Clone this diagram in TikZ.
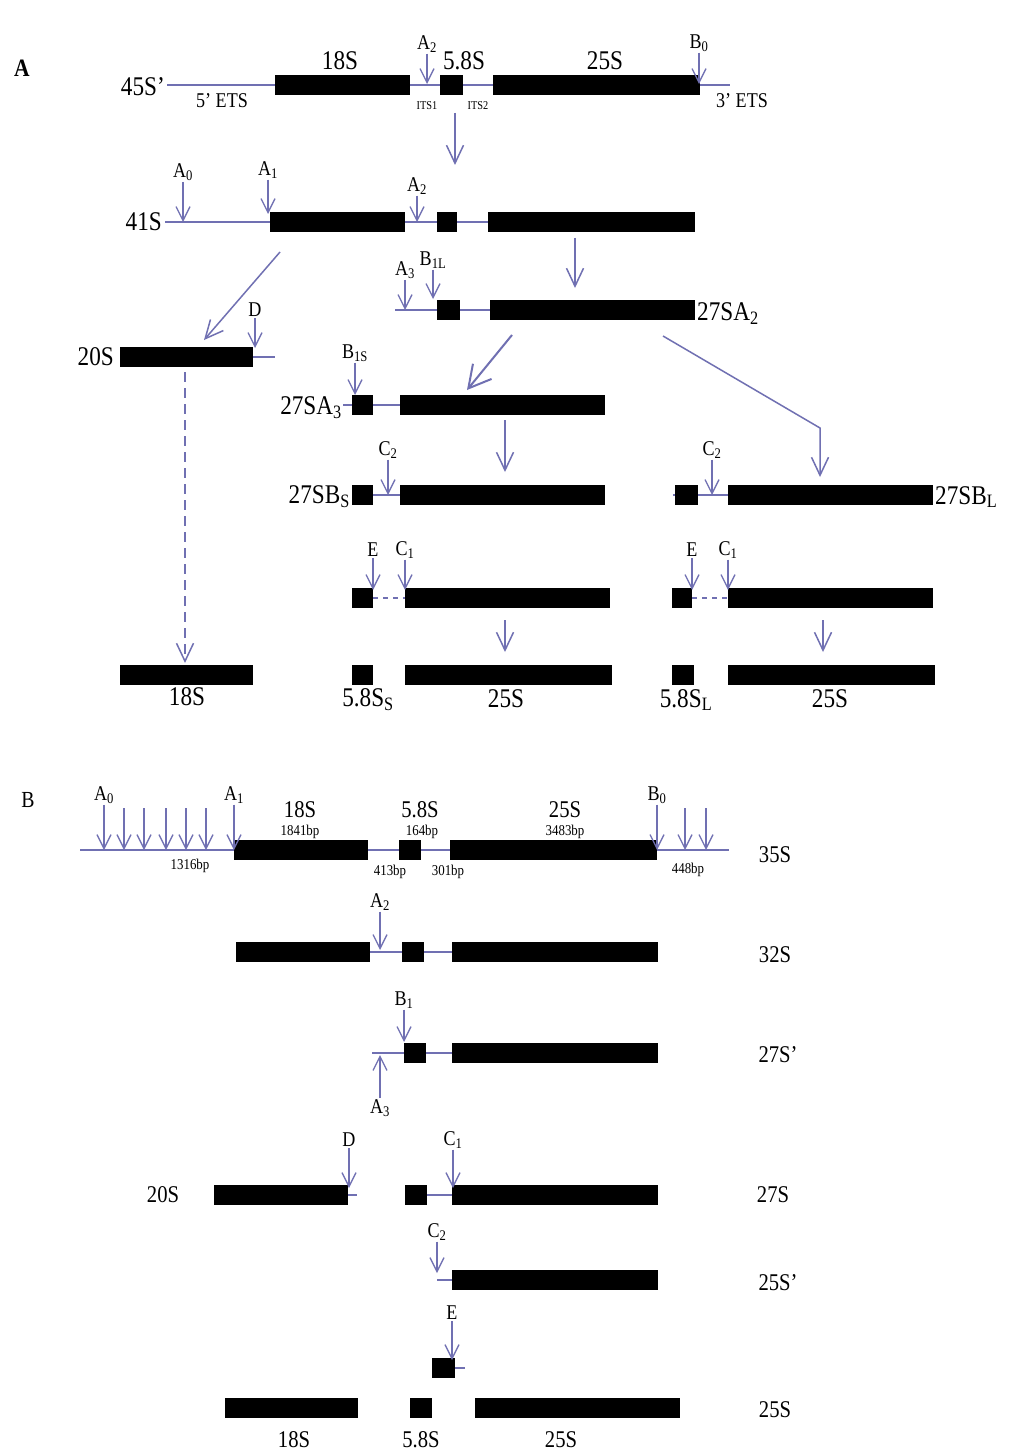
\documentclass[tikz,border=0pt]{standalone}
\usepackage{fontspec}
\setmainfont{Liberation Serif}[FakeStretch=0.86]
\usetikzlibrary{arrows.meta}
\definecolor{ln}{RGB}{112,112,178}
\tikzset{
 x=1pt,y=-1pt,
 rna/.style={draw=ln, line width=1.6pt},
 rnadash/.style={draw=ln, line width=1.6pt, dash pattern=on 5pt off 5pt},
 blk/.style={fill=black, draw=none, minimum height=20pt, inner sep=0pt, outer sep=0pt},
 cut/.style={draw=ln, line width=1.3pt, -{Straight Barb[length=14pt,width=14pt,line width=1.3pt]}},
 cutup/.style={draw=ln, line width=1.3pt, {Straight Barb[length=14pt,width=14pt,line width=1.3pt]}-},
 proc/.style={draw=ln, line width=1.5pt, -{Straight Barb[length=18pt,width=17pt,line width=1.5pt]}},
 procbig/.style={draw=ln, line width=2pt, -{Straight Barb[length=22pt,width=24pt,line width=2pt]}},
 procdash/.style={draw=ln, line width=1.5pt, dash pattern=on 10pt off 6pt, -{Straight Barb[length=18pt,width=17pt,line width=1.5pt,sep=0pt]}},
 big/.style={font=\fontsize{27}{29}\selectfont, inner sep=1pt},
 bigb/.style={font=\fontsize{24}{26}\selectfont, inner sep=1pt},
 lab/.style={font=\fontsize{21}{22}\selectfont, inner sep=1pt},
 sml/.style={font=\fontsize{12}{13}\selectfont, inner sep=1pt},
 bp/.style={font=\fontsize{15}{16}\selectfont, inner sep=0.5pt},
}
\newcommand\blkbox[4]{%
 \pgfmathsetmacro\bw{#3-#2}\pgfmathsetmacro\bx{(#2+#3)/2}%
 \node[blk, minimum width=\bw pt] (#1) at (\bx,#4) {};}
\newcommand\cutm[5]{%
 \node[lab] (#1) at (#2,#3) {#5};
 \coordinate (#1t) at (#2,#4);
 \draw[cut] (#1.south -| #1t) -- (#1t);}
\begin{document}
\begin{tikzpicture}
\useasboundingbox[fill=white] (0,0) rectangle (1014,1455);
% ================= Panel A =================
\node[font=\bfseries\fontsize{25}{27}\selectfont] (pA) at (22,68) {A};
% 45S'
\node[big, anchor=east] (n45) at (166,87) {45S’};
\coordinate (l45a) at (167,85); \coordinate (l45b) at (730,85);
\draw[rna] (l45a) -- (l45b);
\blkbox{a18}{275}{410}{85}
\blkbox{a58}{440}{463}{85}
\blkbox{a25}{493}{700}{85}
\node[big] (t18) at (340,61) {18S};
\node[big] (t58) at (464,61) {5.8S};
\node[big] (t25) at (605,61) {25S};
\node[lab] (tets5) at (222,101) {5’ ETS};
\node[lab] (tets3) at (742,101) {3’ ETS};
\node[sml] (its1) at (427,106) {ITS1};
\node[sml] (its2) at (478,106) {ITS2};
\cutm{a2a}{427}{44}{84}{A\textsubscript{2}}
\cutm{b0a}{699}{43}{84}{B\textsubscript{0}}
\coordinate (p1s) at (455,113); \coordinate (p1e) at (455,165);
\draw[proc] (p1s) -- (p1e);
% 41S
\node[big, anchor=east] (n41) at (163,222) {41S};
\coordinate (l41a) at (165,222); \coordinate (l41b) at (695,222);
\draw[rna] (l41a) -- (l41b);
\blkbox{b18}{270}{405}{222}
\blkbox{b58}{437}{457}{222}
\blkbox{b25}{488}{695}{222}
\cutm{a0b}{183}{172}{222}{A\textsubscript{0}}
\cutm{a1b}{268}{170}{214}{A\textsubscript{1}}
\cutm{a2b}{417}{186}{222}{A\textsubscript{2}}
\coordinate (p2s) at (575,238); \coordinate (p2e) at (575,288);
\draw[proc] (p2s) -- (p2e);
\coordinate (p3s) at (280,252); \coordinate (p3e) at (204,340);
\draw[proc] (p3s) -- (p3e);
% 27SA2
\coordinate (l27a) at (395,310); \coordinate (l27b) at (490,310);
\draw[rna] (l27a) -- (l27b);
\blkbox{c58}{437}{460}{310}
\blkbox{c25}{490}{695}{310}
\node[big, anchor=west] (n27a2) at (696,314) {27SA\textsubscript{2}};
\cutm{a3c}{405}{270}{310}{A\textsubscript{3}}
\cutm{b1lc}{433}{260}{299}{B\textsubscript{1L}}
\coordinate (p4s) at (512,335); \coordinate (p4e) at (467,390);
\draw[procbig] (p4s) -- (p4e);
\coordinate (p5s) at (663,336); \coordinate (p5m) at (820,428); \coordinate (p5e) at (820,477);
\draw[proc] (p5s) -- (p5m) -- (p5e);
% 20S
\node[big, anchor=east] (n20) at (115,357) {20S};
\coordinate (l20a) at (253,357); \coordinate (l20b) at (275,357);
\draw[rna] (l20a) -- (l20b);
\blkbox{d18}{120}{253}{357}
\cutm{dd}{255}{310}{348}{D}
\coordinate (p6s) at (185,372); \coordinate (p6e) at (185,663);
\draw[procdash] (p6s) -- (p6e);
% 27SA3
\node[big, anchor=east] (n27a3) at (343,408) {27SA\textsubscript{3}};
\coordinate (l3a) at (343,405); \coordinate (l3b) at (400,405);
\draw[rna] (l3a) -- (l3b);
\blkbox{e58}{352}{373}{405}
\blkbox{e25}{400}{605}{405}
\cutm{b1se}{355}{353}{395}{B\textsubscript{1S}}
\coordinate (p7s) at (505,420); \coordinate (p7e) at (505,472);
\draw[proc] (p7s) -- (p7e);
% 27SBS
\node[big, anchor=east] (n27bs) at (351,497) {27SB\textsubscript{S}};
\coordinate (l4a) at (373,495); \coordinate (l4b) at (400,495);
\draw[rna] (l4a) -- (l4b);
\blkbox{f58}{352}{373}{495}
\blkbox{f25}{400}{605}{495}
\cutm{c2f}{388}{450}{495}{C\textsubscript{2}}
% 27SBL
\coordinate (l5a) at (673,495); \coordinate (l5b) at (728,495);
\draw[rna] (l5a) -- (l5b);
\blkbox{g58}{675}{698}{495}
\blkbox{g25}{728}{933}{495}
\cutm{c2g}{712}{450}{495}{C\textsubscript{2}}
\node[big, anchor=west] (n27bl) at (934,497) {27SB\textsubscript{L}};
% E / C1 rows
\coordinate (l6a) at (373,598); \coordinate (l6b) at (405,598);
\draw[rnadash] (l6a) -- (l6b);
\blkbox{h58}{352}{373}{598}
\blkbox{h25}{405}{610}{598}
\cutm{eh}{373}{550}{590}{E}
\cutm{c1h}{405}{550}{590}{C\textsubscript{1}}
\coordinate (p8s) at (505,620); \coordinate (p8e) at (505,652);
\draw[proc] (p8s) -- (p8e);
\coordinate (l7a) at (692,598); \coordinate (l7b) at (728,598);
\draw[rnadash] (l7a) -- (l7b);
\blkbox{i58}{672}{692}{598}
\blkbox{i25}{728}{933}{598}
\cutm{ei}{692}{550}{590}{E}
\cutm{c1i}{728}{550}{590}{C\textsubscript{1}}
\coordinate (p9s) at (823,620); \coordinate (p9e) at (823,652);
\draw[proc] (p9s) -- (p9e);
% final products
\blkbox{j18}{120}{253}{675}
\blkbox{j58}{352}{373}{675}
\blkbox{j25}{405}{612}{675}
\blkbox{k58}{672}{694}{675}
\blkbox{k25}{728}{935}{675}
\node[big] (tj18) at (187,697) {18S};
\node[big] (tj58) at (368,700) {5.8S\textsubscript{S}};
\node[big] (tj25) at (506,699) {25S};
\node[big] (tk58) at (686,700) {5.8S\textsubscript{L}};
\node[big] (tk25) at (830,699) {25S};
% ================= Panel B =================
\node[font=\fontsize{23}{25}\selectfont] (pB) at (28,800) {B};
% 35S
\coordinate (m1a) at (80,850); \coordinate (m1b) at (729,850);
\draw[rna] (m1a) -- (m1b);
\blkbox{m18}{234}{368}{850}
\blkbox{m58}{399}{421}{850}
\blkbox{m25}{450}{657}{850}
\cutm{a0m}{104}{795}{850}{A\textsubscript{0}}
\foreach \xx [count=\i] in {124,144,166,186,206,685,706}{
  \coordinate (ma\i s) at (\xx,808); \coordinate (ma\i t) at (\xx,850);
  \draw[cut] (ma\i s) -- (ma\i t);}
\cutm{a1m}{234}{795}{850}{A\textsubscript{1}}
\cutm{b0m}{657}{795}{850}{B\textsubscript{0}}
\node[bigb] (tm18) at (300,810) {18S};
\node[bp] (bm18) at (300,832) {1841bp};
\node[bigb] (tm58) at (420,810) {5.8S};
\node[bp] (bm58) at (422,832) {164bp};
\node[bigb] (tm25) at (565,810) {25S};
\node[bp] (bm25) at (565,832) {3483bp};
\node[bp] (b5e) at (190,866) {1316bp};
\node[bp] (bi1) at (390,872) {413bp};
\node[bp] (bi2) at (448,872) {301bp};
\node[bp] (b3e) at (688,870) {448bp};
\node[bigb] (n35) at (775,855) {35S};
% 32S
\coordinate (n1a) at (370,952); \coordinate (n1b) at (452,952);
\draw[rna] (n1a) -- (n1b);
\blkbox{n18}{236}{370}{952}
\blkbox{n58}{402}{424}{952}
\blkbox{n25}{452}{658}{952}
\cutm{a2n}{380}{902}{950}{A\textsubscript{2}}
\node[bigb] (n32) at (775,955) {32S};
% 27S'
\coordinate (o1a) at (372,1053); \coordinate (o1b) at (452,1053);
\draw[rna] (o1a) -- (o1b);
\blkbox{o58}{404}{426}{1053}
\blkbox{o25}{452}{658}{1053}
\cutm{b1o}{404}{1000}{1042}{B\textsubscript{1}}
\node[lab] (a3o) at (380,1108) {A\textsubscript{3}};
\coordinate (a3ot) at (380,1055);
\draw[cutup] (a3ot) -- (a3o.north -| a3ot);
\node[bigb] (n27p) at (778,1055) {27S’};
% 27S
\node[bigb] (n20b) at (163,1195) {20S};
\coordinate (p1a) at (348,1195); \coordinate (p1b) at (357,1195);
\draw[rna] (p1a) -- (p1b);
\coordinate (p2a) at (427,1195); \coordinate (p2b) at (452,1195);
\draw[rna] (p2a) -- (p2b);
\blkbox{p18}{214}{348}{1195}
\blkbox{p58}{405}{427}{1195}
\blkbox{p25}{452}{658}{1195}
\cutm{dp}{349}{1140}{1188}{D}
\cutm{c1p}{453}{1140}{1188}{C\textsubscript{1}}
\node[bigb] (n27s) at (773,1195) {27S};
% 25S'
\coordinate (q1a) at (437,1280); \coordinate (q1b) at (452,1280);
\draw[rna] (q1a) -- (q1b);
\blkbox{q25}{452}{658}{1280}
\cutm{c2q}{437}{1232}{1273}{C\textsubscript{2}}
\node[bigb] (n25p) at (778,1283) {25S’};
% E
\coordinate (r1a) at (455,1368); \coordinate (r1b) at (465,1368);
\draw[rna] (r1a) -- (r1b);
\blkbox{r58}{432}{455}{1368}
\cutm{er}{452}{1313}{1360}{E}
% 25S
\blkbox{s18}{225}{358}{1408}
\blkbox{s58}{410}{432}{1408}
\blkbox{s25}{475}{680}{1408}
\node[bigb] (n25f) at (775,1410) {25S};
\node[bigb] (ts18) at (294,1440) {18S};
\node[bigb] (ts58) at (421,1440) {5.8S};
\node[bigb] (ts25) at (561,1440) {25S};
\end{tikzpicture}
\end{document}
